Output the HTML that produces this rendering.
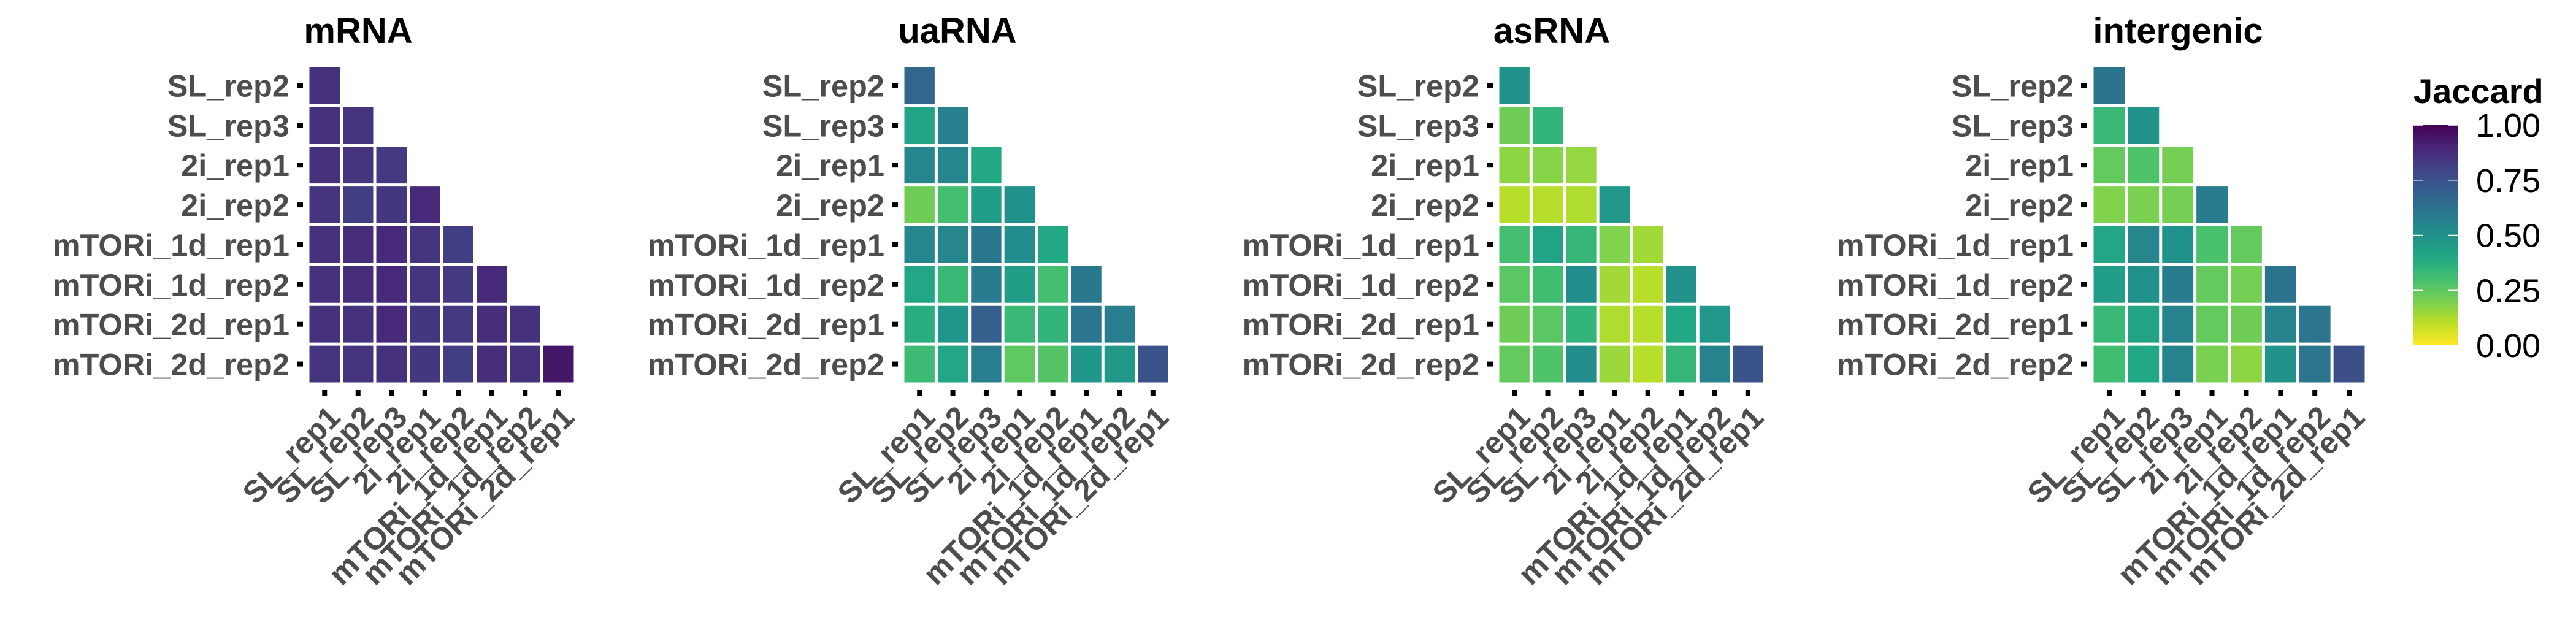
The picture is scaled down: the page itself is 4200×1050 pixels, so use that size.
<!DOCTYPE html>
<html><head><meta charset="utf-8"><style>
html,body{margin:0;padding:0;background:#fff;}
svg{display:block;}
</style></head><body>
<svg id="chart" xmlns="http://www.w3.org/2000/svg" width="4200" height="1050" viewBox="0 0 4200 1050" font-family="'Liberation Sans', Arial, sans-serif">
<defs>
<linearGradient id="vir" x1="0" y1="0" x2="0" y2="1">
<stop offset="0" stop-color="#440154"/><stop offset="0.1" stop-color="#482475"/><stop offset="0.2" stop-color="#414487"/><stop offset="0.3" stop-color="#355f8d"/><stop offset="0.4" stop-color="#2a788e"/><stop offset="0.5" stop-color="#21918c"/><stop offset="0.6" stop-color="#22a884"/><stop offset="0.7" stop-color="#44bf70"/><stop offset="0.8" stop-color="#7ad151"/><stop offset="0.9" stop-color="#bddf26"/><stop offset="1" stop-color="#fde725"/>
</linearGradient>
</defs>
<g id="panels"></g>
<g id="legend">
<text x="3935" y="168" font-size="56" font-weight="bold" fill="#000">Jaccard</text>
<rect x="3935" y="204" width="72" height="359" fill="url(#vir)"/>
<g id="legendTicks"></g>
</g>
</svg>
<script>
const NS='http://www.w3.org/2000/svg';
const rowLabels=['SL_rep2','SL_rep3','2i_rep1','2i_rep2','mTORi_1d_rep1','mTORi_1d_rep2','mTORi_2d_rep1','mTORi_2d_rep2'];
const colLabels=['SL_rep1','SL_rep2','SL_rep3','2i_rep1','2i_rep2','mTORi_1d_rep1','mTORi_1d_rep2','mTORi_2d_rep1'];
const panelTitles=['mRNA','uaRNA','asRNA','intergenic'];
const mrnaValues=[[0.86],[0.86,0.85],[0.86,0.85,0.83],[0.85,0.82,0.84,0.88],[0.86,0.87,0.88,0.85,0.82],[0.86,0.87,0.88,0.85,0.83,0.88],[0.86,0.86,0.88,0.84,0.83,0.87,0.86],[0.85,0.85,0.86,0.84,0.82,0.87,0.86,0.94]];
const uarnaValues=[[0.67],[0.42,0.57],[0.54,0.54,0.4],[0.22,0.3,0.45,0.5],[0.54,0.55,0.6,0.52,0.4],[0.41,0.33,0.59,0.45,0.3,0.6],[0.38,0.48,0.7,0.33,0.35,0.61,0.58],[0.32,0.41,0.58,0.25,0.27,0.48,0.47,0.74]];
const asrnaValues=[[0.49],[0.22,0.35],[0.17,0.18,0.16],[0.11,0.11,0.12,0.47],[0.3,0.42,0.34,0.19,0.14],[0.26,0.31,0.52,0.14,0.11,0.49],[0.22,0.26,0.35,0.12,0.11,0.4,0.47],[0.24,0.28,0.52,0.15,0.11,0.34,0.56,0.74]];
const intergenicValues=[[0.62],[0.33,0.49],[0.24,0.28,0.21],[0.19,0.2,0.21,0.59],[0.41,0.55,0.5,0.29,0.24],[0.45,0.5,0.59,0.24,0.21,0.62],[0.33,0.42,0.56,0.24,0.22,0.56,0.61],[0.31,0.4,0.56,0.2,0.17,0.49,0.61,0.76]];
const legendTicks=[0,0.25,0.5,0.75,1];
const legendTickLabels=['0.00','0.25','0.50','0.75','1.00'];
const allValues=[mrnaValues,uarnaValues,asrnaValues,intergenicValues];

const vir=['#440154','#482475','#414487','#355f8d','#2a788e','#21918c','#22a884','#44bf70','#7ad151','#bddf26','#fde725'];
function hex(h){return [1,3,5].map(i=>parseInt(h.substr(i,2),16));}
function colorOf(v){
  let t=Math.max(0,Math.min(1,1-v))*10; let i=Math.min(9,Math.floor(t)); let f=t-i;
  const a=hex(vir[i]),b=hex(vir[i+1]);
  return 'rgb('+a.map((c,k)=>Math.round(c+(b[k]-c)*f)).join(',')+')';
}
const layout=[{left:502,right:938,title:584},{left:1472,right:1907,title:1561},{left:2442,right:2877,title:2530},{left:3411,right:3858,title:3551}];
const gridTop=107,gridBottom=626;
function el(tag,attrs,parent){const e=document.createElementNS(NS,tag);for(const k in attrs)e.setAttribute(k,attrs[k]);parent.appendChild(e);return e;}
const panelsG=document.getElementById('panels');
panelTitles.forEach((title,p)=>{
  const L=layout[p];
  const g=el('g',{},panelsG);
  
  
  const cw=(L.right-L.left)/colLabels.length;
  const ch=(gridBottom-gridTop)/rowLabels.length;
  const xs=(j)=>L.left+cw*j;
  const ys=(i)=>gridTop+ch*i;
  const t=el('text',{x:L.title,y:70,'text-anchor':'middle','font-size':58,'font-weight':'bold',fill:'#000'},g);
  t.textContent=title;
  
  
  const vals=allValues[p];
  vals.forEach((row,i)=>{row.forEach((v,j)=>{
    const r=el('rect',{x:xs(j)+2.5,y:ys(i)+2.5,width:cw-5,height:ch-5,fill:colorOf(v)},g);
    
    
  });});
  rowLabels.forEach((lab,i)=>{
    const cy=ys(i)+ch/2;
    const tk=el('rect',{x:L.left-18,y:cy-4,width:10,height:8,fill:'#000'},g);
    
    
    const tx=el('text',{x:L.left-30,y:cy+18,'text-anchor':'end','font-size':50.5,'font-weight':'bold',fill:'#4d4d4d'},g);
    tx.textContent=lab;
    
    
  });
  colLabels.forEach((lab,j)=>{
    const cx=xs(j)+cw/2;
    const tk=el('rect',{x:cx-4,y:gridBottom+10,width:8,height:10,fill:'#000'},g);
    
    
    const tx=el('text',{transform:'translate('+(cx+3)+','+(gridBottom+32)+') rotate(-45)','text-anchor':'end','font-size':50.5,'font-weight':'bold',fill:'#4d4d4d',dy:'36'},g);
    tx.textContent=lab;
    
    
  });
});
const lt=document.getElementById('legendTicks');
const ly=(v)=>563-(563-204)*v;
legendTicks.forEach((v,i)=>{
  const y=ly(v);
  const a=el('line',{x1:3935,x2:3950,y1:y,y2:y,stroke:'#fff','stroke-width':1.5},lt);
  
  
  const b=el('line',{x1:3992,x2:4007,y1:y,y2:y,stroke:'#fff','stroke-width':1.5},lt);
  
  
  const t=el('text',{x:4037,y:y+19,'font-size':54,fill:'#000'},lt);
  t.textContent=legendTickLabels[i];
  
  
});
</script>
</body></html>
